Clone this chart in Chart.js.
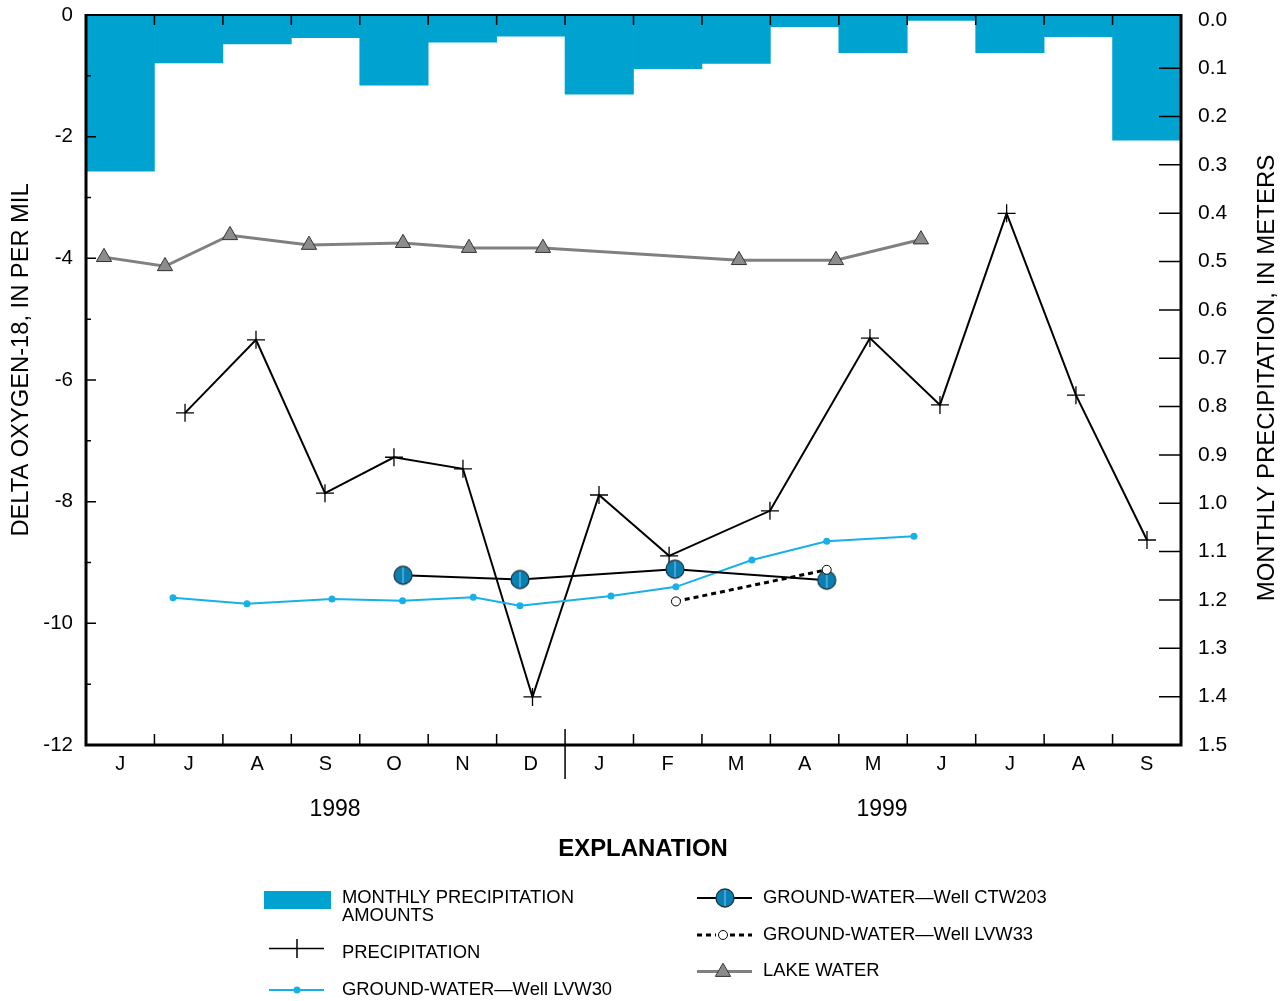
<!DOCTYPE html>
<html><head><meta charset="utf-8">
<script src="https://cdn.jsdelivr.net/npm/chart.js@4"></script>
<style>html,body{margin:0;padding:0;background:#fff}#wrap{position:relative;width:1288px;height:1001px}</style>
</head><body><div id="wrap"><canvas id="c"></canvas></div>
<script>
// ---- data ----
const months = ['J','J','A','S','O','N','D','J','F','M','A','M','J','J','A','S'];
const years = ['1998','1999'];
const yearBreakIndex = 7;
const monthlyPrecip = [0.313,0.089,0.050,0.037,0.135,0.046,0.034,0.154,0.101,0.090,0.014,0.068,0.001,0.068,0.035,0.249];
const precipX = [1.447,2.484,3.492,4.50,5.508,6.524,7.496,8.52,9.994,11.455,12.478,13.452,14.465,15.503];
const precipY = [-6.54,-5.34,-7.86,-7.27,-7.46,-11.21,-7.89,-8.89,-8.15,-5.31,-6.41,-3.26,-6.25,-8.63];
const lakeX = [0.263,1.154,2.104,3.258,4.632,5.596,6.677,9.541,10.958,12.2];
const lakeY = [-3.98,-4.13,-3.62,-3.78,-3.75,-3.83,-3.83,-4.03,-4.03,-3.69];
const lvw30X = [1.271,2.352,3.594,4.626,5.659,6.341,7.671,8.62,9.731,10.823,12.098];
const lvw30Y = [-9.58,-9.68,-9.60,-9.63,-9.57,-9.71,-9.55,-9.40,-8.96,-8.65,-8.57];
const ctw203X = [4.632,6.341,8.606,10.823];
const ctw203Y = [-9.21,-9.28,-9.11,-9.29];
const lvw33X = [8.62,10.823];
const lvw33Y = [-9.64,-9.12];
const leftTicks = [0,-1,-2,-3,-4,-5,-6,-7,-8,-9,-10,-11,-12];
const rightTicks = [0,0.1,0.2,0.3,0.4,0.5,0.6,0.7,0.8,0.9,1.0,1.1,1.2,1.3,1.4,1.5];
const legendLabels = {
  bars: ['MONTHLY PRECIPITATION','AMOUNTS'],
  precip: 'PRECIPITATION',
  lvw30: 'GROUND-WATER\u2014Well LVW30',
  ctw203: 'GROUND-WATER\u2014Well CTW203',
  lvw33: 'GROUND-WATER\u2014Well LVW33',
  lake: 'LAKE WATER'
};

// ---- styles ----
const FONT = '"Liberation Sans", Arial, Helvetica, sans-serif';
const BAR_COLOR = '#00a3d0';
const LVW30_COLOR = '#18b0e8';
const CTW_FILL = '#0880b4';
const LAKE_LINE = '#808080';
const LAKE_FILL = '#8c8c8c';

function pts(xs, ys){ return xs.map((x,i)=>({x:x, y:ys[i]})); }

// custom circle marker for CTW203
function makeCtwMarker(){
  const c = document.createElement('canvas');
  c.width = 22; c.height = 22;
  const g = c.getContext('2d');
  g.beginPath(); g.arc(11,11,9,0,Math.PI*2);
  g.fillStyle = CTW_FILL; g.fill();
  g.lineWidth = 1.3; g.strokeStyle = '#1d3340'; g.stroke();
  g.beginPath(); g.moveTo(11,3); g.lineTo(11,19);
  g.lineWidth = 1; g.strokeStyle = '#86c9e6'; g.stroke();
  return c;
}
const ctwMarker = makeCtwMarker();

Chart.defaults.font.family = FONT;
Chart.defaults.color = '#000';

function tri(ctx, x, y, r){
  ctx.beginPath();
  for (let k=0;k<3;k++){
    const a = -Math.PI/2 + k*2*Math.PI/3;
    const px = x + Math.cos(a)*r, py = y + Math.sin(a)*r;
    if(k===0) ctx.moveTo(px,py); else ctx.lineTo(px,py);
  }
  ctx.closePath();
}

function noPad(s){ s.paddingTop = 0; s.paddingBottom = 0; s.paddingLeft = 0; s.paddingRight = 0; }

const decor = {
  id: 'decor',
  afterDraw(chart){
    const {ctx, chartArea:a, scales} = chart;
    const xs = scales.x, yl = scales.y, yr = scales.yR;
    ctx.save();
    ctx.strokeStyle = '#000';
    ctx.lineCap = 'butt';
    // month tick marks
    ctx.lineWidth = 1.5;
    ctx.beginPath();
    for (let m=1; m<months.length; m++){
      const px = xs.getPixelForValue(m);
      ctx.moveTo(px, a.bottom); ctx.lineTo(px, a.bottom-11);
      ctx.moveTo(px, a.top); ctx.lineTo(px, a.top+10);
    }
    const sx = xs.getPixelForValue(yearBreakIndex);
    ctx.moveTo(sx, a.bottom-16); ctx.lineTo(sx, a.bottom+34);
    // left ticks
    leftTicks.forEach(v=>{
      if (v===0 || v===-12) return;
      const py = yl.getPixelForValue(v);
      ctx.moveTo(a.left, py); ctx.lineTo(a.left + (v%2===0 ? 10 : 5), py);
    });
    // right ticks
    rightTicks.forEach(v=>{
      if (v===0 || v===1.5) return;
      const py = yr.getPixelForValue(v);
      ctx.moveTo(a.right, py); ctx.lineTo(a.right-22, py);
    });
    ctx.stroke();
    // frame
    ctx.lineWidth = 2;
    ctx.beginPath(); ctx.moveTo(a.left, a.top); ctx.lineTo(a.right, a.top); ctx.stroke();
    ctx.lineWidth = 3;
    ctx.beginPath();
    ctx.moveTo(a.left, a.top-1); ctx.lineTo(a.left, a.bottom); ctx.lineTo(a.right, a.bottom); ctx.lineTo(a.right, a.top-1);
    ctx.stroke();

    // axis titles
    ctx.fillStyle = '#000';
    ctx.textAlign = 'center'; ctx.textBaseline = 'middle';
    ctx.font = '23.7px ' + FONT;
    ctx.save(); ctx.translate(21, 360); ctx.rotate(-Math.PI/2);
    ctx.fillText('DELTA OXYGEN-18, IN PER MIL', 0, 0); ctx.restore();
    ctx.font = '24px ' + FONT;
    ctx.save(); ctx.translate(1267, 378); ctx.rotate(-Math.PI/2);
    ctx.fillText('MONTHLY PRECIPITATION, IN METERS', 0, 0); ctx.restore();
    // years
    ctx.font = '23px ' + FONT;
    ctx.fillText(years[0], 335, 810);
    ctx.fillText(years[1], 882, 810);
    // explanation
    ctx.font = 'bold 23.9px ' + FONT;
    ctx.fillText('EXPLANATION', 643, 849);

    // legend
    ctx.font = '18.4px ' + FONT;
    ctx.textAlign = 'left';
    // bars
    ctx.fillStyle = BAR_COLOR; ctx.fillRect(264, 891, 67, 18);
    ctx.fillStyle = '#000';
    ctx.fillText(legendLabels.bars[0], 342, 898);
    ctx.fillText(legendLabels.bars[1], 342, 916);
    // precipitation cross
    ctx.strokeStyle = '#000'; ctx.lineWidth = 1.5;
    ctx.beginPath(); ctx.moveTo(269, 948.5); ctx.lineTo(324, 948.5);
    ctx.moveTo(297, 939); ctx.lineTo(297, 958); ctx.stroke();
    ctx.fillText(legendLabels.precip, 342, 953);
    // lvw30
    ctx.strokeStyle = LVW30_COLOR; ctx.lineWidth = 2;
    ctx.beginPath(); ctx.moveTo(269, 990); ctx.lineTo(324, 990); ctx.stroke();
    ctx.fillStyle = LVW30_COLOR; ctx.beginPath(); ctx.arc(297, 990, 3.5, 0, Math.PI*2); ctx.fill();
    ctx.fillStyle = '#000'; ctx.fillText(legendLabels.lvw30, 342, 990);
    // ctw203
    ctx.strokeStyle = '#000'; ctx.lineWidth = 2;
    ctx.beginPath(); ctx.moveTo(697, 898); ctx.lineTo(752, 898); ctx.stroke();
    ctx.drawImage(ctwMarker, 725-11, 898-11);
    ctx.fillText(legendLabels.ctw203, 763, 898);
    // lvw33
    ctx.lineWidth = 3; ctx.setLineDash([5,4]);
    ctx.beginPath(); ctx.moveTo(697, 935); ctx.lineTo(716, 935); ctx.moveTo(730, 935); ctx.lineTo(752, 935); ctx.stroke();
    ctx.setLineDash([]);
    ctx.lineWidth = 1; ctx.fillStyle = '#fff';
    ctx.beginPath(); ctx.arc(723, 935, 4.5, 0, Math.PI*2); ctx.fill(); ctx.stroke();
    ctx.fillStyle = '#000'; ctx.fillText(legendLabels.lvw33, 763, 935);
    // lake
    ctx.strokeStyle = LAKE_LINE; ctx.lineWidth = 3;
    ctx.beginPath(); ctx.moveTo(697, 971.5); ctx.lineTo(752, 971.5); ctx.stroke();
    ctx.fillStyle = LAKE_FILL; ctx.strokeStyle = '#333'; ctx.lineWidth = 1;
    tri(ctx, 723, 972, 8.8); ctx.fill(); ctx.stroke();
    ctx.fillStyle = '#000'; ctx.fillText(legendLabels.lake, 763, 971);
    ctx.restore();
  }
};

new Chart(document.getElementById('c'), {
  type: 'bar',
  data: {
    datasets: [
      { type:'bar', label:'Monthly precipitation amounts', data: monthlyPrecip.map((v,i)=>({x:i+0.5, y:v})),
        xAxisID:'x', yAxisID:'yR', backgroundColor: BAR_COLOR, borderWidth:0, base:-0.01,
        barPercentage:1, categoryPercentage:1, order:10 },
      { type:'line', label:'Lake water', data: pts(lakeX, lakeY), xAxisID:'x', yAxisID:'y',
        borderColor: LAKE_LINE, borderWidth:3, pointStyle:'triangle', pointRadius:8.8,
        pointBackgroundColor: LAKE_FILL, pointBorderColor:'#333', pointBorderWidth:1, tension:0, order:5 },
      { type:'line', label:'Precipitation', data: pts(precipX, precipY), xAxisID:'x', yAxisID:'y',
        borderColor:'#000', borderWidth:2, pointStyle:'cross', pointRadius:9,
        pointBorderColor:'#000', pointBorderWidth:1.3, tension:0, order:4 },
      { type:'line', label:'Ground-water Well LVW30', data: pts(lvw30X, lvw30Y), xAxisID:'x', yAxisID:'y',
        borderColor: LVW30_COLOR, borderWidth:2, pointStyle:'circle', pointRadius:3.5,
        pointBackgroundColor: LVW30_COLOR, pointBorderColor: LVW30_COLOR, pointBorderWidth:0, tension:0, order:3 },
      { type:'line', label:'Ground-water Well CTW203', data: pts(ctw203X, ctw203Y), xAxisID:'x', yAxisID:'y',
        borderColor:'#000', borderWidth:2, pointStyle: ctwMarker, pointRadius:9, tension:0, order:2 },
      { type:'line', label:'Ground-water Well LVW33', data: pts(lvw33X, lvw33Y), xAxisID:'x', yAxisID:'y',
        borderColor:'#000', borderWidth:3, borderDash:[5,4], pointStyle:'circle', pointRadius:4.5,
        pointBackgroundColor:'#fff', pointBorderColor:'#000', pointBorderWidth:1, tension:0, order:1 }
    ]
  },
  options: {
    responsive:true, maintainAspectRatio:false, animation:false,
    layout:{ padding:{ top:15, left:0, right:0, bottom:0 } },
    plugins:{ legend:{display:false}, tooltip:{enabled:false} },
    scales:{
      x:{ type:'linear', position:'bottom', min:0, max:months.length, offset:false,
          grid:{display:false, drawTicks:false}, border:{display:false},
          afterBuildTicks: s => { s.ticks = months.map((m,i)=>({value:i+0.5})); },
          ticks:{ autoSkip:false, maxRotation:0, padding:7, font:{size:20},
                  callback:(v,i)=>months[i] },
          afterFit: s => { s.height = 256; noPad(s); } },
      y:{ type:'linear', position:'left', min:-12, max:0,
          grid:{display:false, drawTicks:false}, border:{display:false},
          afterBuildTicks: s => { s.ticks = leftTicks.map(v=>({value:v})); },
          ticks:{ autoSkip:false, padding:13, font:{size:20.5},
                  callback: v => (v%2===0 ? String(v) : '') },
          afterFit: s => { s.width = 86; noPad(s); } },
      yR:{ type:'linear', position:'right', min:-0.01, max:1.5, reverse:true,
          grid:{display:false, drawTicks:false}, border:{display:false},
          afterBuildTicks: s => { s.ticks = rightTicks.map(v=>({value:v})); },
          ticks:{ autoSkip:false, padding:17, font:{size:21},
                  callback: v => Number(v).toFixed(1) },
          afterFit: s => { s.width = 107; noPad(s); } }
    }
  },
  plugins:[decor]
});
</script></body></html>
